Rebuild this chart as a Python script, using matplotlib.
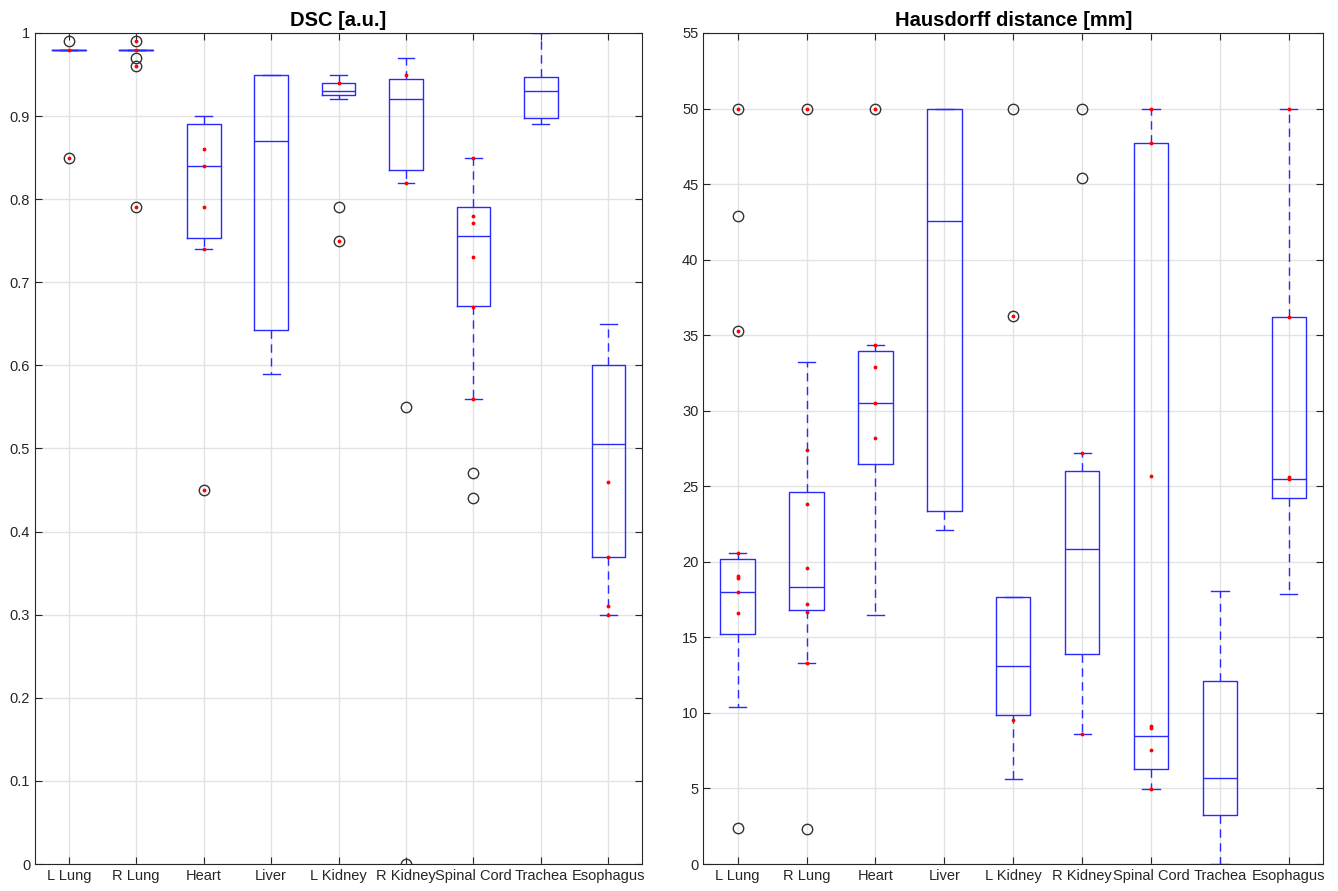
import matplotlib.pyplot as plt

plt.rcParams['font.family'] = ['Liberation Sans', 'DejaVu Sans']

organs = ['L Lung', 'R Lung', 'Heart', 'Liver', 'L Kidney', 'R Kidney',
          'Spinal Cord', 'Trachea', 'Esophagus']

# DSC [a.u.] box statistics
dsc_lo = [0.98, 0.98, 0.74, 0.59, 0.92, 0.82, 0.56, 0.89, 0.30]
dsc_q1 = [0.98, 0.98, 0.753, 0.643, 0.925, 0.835, 0.671, 0.898, 0.37]
dsc_med = [0.98, 0.98, 0.84, 0.87, 0.93, 0.92, 0.756, 0.93, 0.505]
dsc_q3 = [0.98, 0.98, 0.89, 0.95, 0.94, 0.945, 0.79, 0.947, 0.60]
dsc_hi = [0.98, 0.98, 0.90, 0.95, 0.95, 0.97, 0.85, 1.00, 0.65]
dsc_out = [[0.99, 0.85], [0.99, 0.97, 0.96, 0.79], [0.45], [], [0.79, 0.75],
           [0.55, 0.0], [0.47, 0.44], [], []]
dsc_dots = [[0.98, 0.85], [0.99, 0.98, 0.96, 0.79], [0.86, 0.84, 0.79, 0.74, 0.45],
            [], [0.94, 0.75], [0.95, 0.82], [0.85, 0.78, 0.771, 0.73, 0.67, 0.56],
            [], [0.46, 0.37, 0.31, 0.30]]

# Hausdorff distance [mm] box statistics
hd_lo = [10.4, 13.3, 16.5, 22.1, 5.6, 8.6, 4.94, 0.0, 17.9]
hd_q1 = [15.24, 16.83, 26.47, 23.38, 9.86, 13.88, 6.31, 3.24, 24.2]
hd_med = [18.0, 18.33, 30.51, 42.54, 13.1, 20.87, 8.49, 5.71, 25.48]
hd_q3 = [20.2, 24.6, 33.98, 50.0, 17.67, 26.0, 47.7, 12.13, 36.22]
hd_hi = [20.6, 33.2, 34.33, 50.0, 17.67, 27.22, 50.0, 18.09, 50.0]
hd_out = [[50.0, 42.9, 35.3, 2.4], [50.0, 2.3], [50.0], [], [50.0, 36.3],
          [50.0, 45.4], [], [], []]
hd_dots = [[50.0, 35.3, 20.6, 19.05, 18.9, 18.0, 16.6],
           [50.0, 27.4, 23.8, 19.6, 17.2, 16.7, 13.3],
           [50.0, 34.33, 32.9, 30.51, 28.22],
           [], [36.3, 9.51], [27.22, 8.6],
           [50.0, 47.7, 25.7, 9.15, 9.0, 7.52, 4.94],
           [], [50.0, 36.22, 25.6, 25.45]]


def draw(ax, lo, q1, med, q3, hi, out, dots, title, ylim, step):
    stats = []
    for i in range(len(organs)):
        stats.append(dict(whislo=lo[i], q1=q1[i], med=med[i], q3=q3[i],
                          whishi=hi[i], fliers=out[i], label=organs[i]))
    pos = list(range(1, len(organs) + 1))
    blue = '#2a2aff'
    ax.bxp(stats, positions=pos, widths=0.5, capwidths=0.25,
           boxprops=dict(color=blue, lw=1.0),
           medianprops=dict(color=blue, lw=1.0),
           whiskerprops=dict(color=blue, lw=1.0, linestyle=(0, (6, 4))),
           capprops=dict(color=blue, lw=1.0),
           flierprops=dict(marker='o', markerfacecolor='none',
                           markeredgecolor='#333333', markersize=7.5,
                           markeredgewidth=1.0))
    for i, d in enumerate(dots):
        ax.plot([pos[i]] * len(d), d, '.', color='red', markersize=3.5,
                zorder=5)
    ax.set_xlim(0.5, len(organs) + 0.5)
    ax.set_ylim(*ylim)
    ax.set_yticks([round(step * k, 2) for k in range(int(round(ylim[1] / step)) + 1)])
    ax.set_xticks(pos)
    ax.set_xticklabels(organs)
    ax.grid(True, color='#e3e3e3', lw=1.0)
    ax.set_axisbelow(True)
    ax.tick_params(direction='in', length=5, top=True, right=True,
                   labelsize=10.5, color='#262626', labelcolor='#262626')
    for s in ax.spines.values():
        s.set_color('#262626')
    ax.set_title(title, fontsize=14.5, fontweight='bold', pad=5)


fig = plt.figure(figsize=(13.38, 8.91), dpi=100)
ax1 = fig.add_axes([0.0262, 0.0303, 0.4537, 0.9327])
ax2 = fig.add_axes([0.5256, 0.0303, 0.4634, 0.9327])

draw(ax1, dsc_lo, dsc_q1, dsc_med, dsc_q3, dsc_hi, dsc_out, dsc_dots,
     'DSC [a.u.]', (0, 1), 0.1)
ax1.set_yticklabels(['0'] + ['%.1f' % (0.1 * k) for k in range(1, 10)] + ['1'])
draw(ax2, hd_lo, hd_q1, hd_med, hd_q3, hd_hi, hd_out, hd_dots,
     'Hausdorff distance [mm]', (0, 55), 5)

fig.savefig('out.png', dpi=100)
